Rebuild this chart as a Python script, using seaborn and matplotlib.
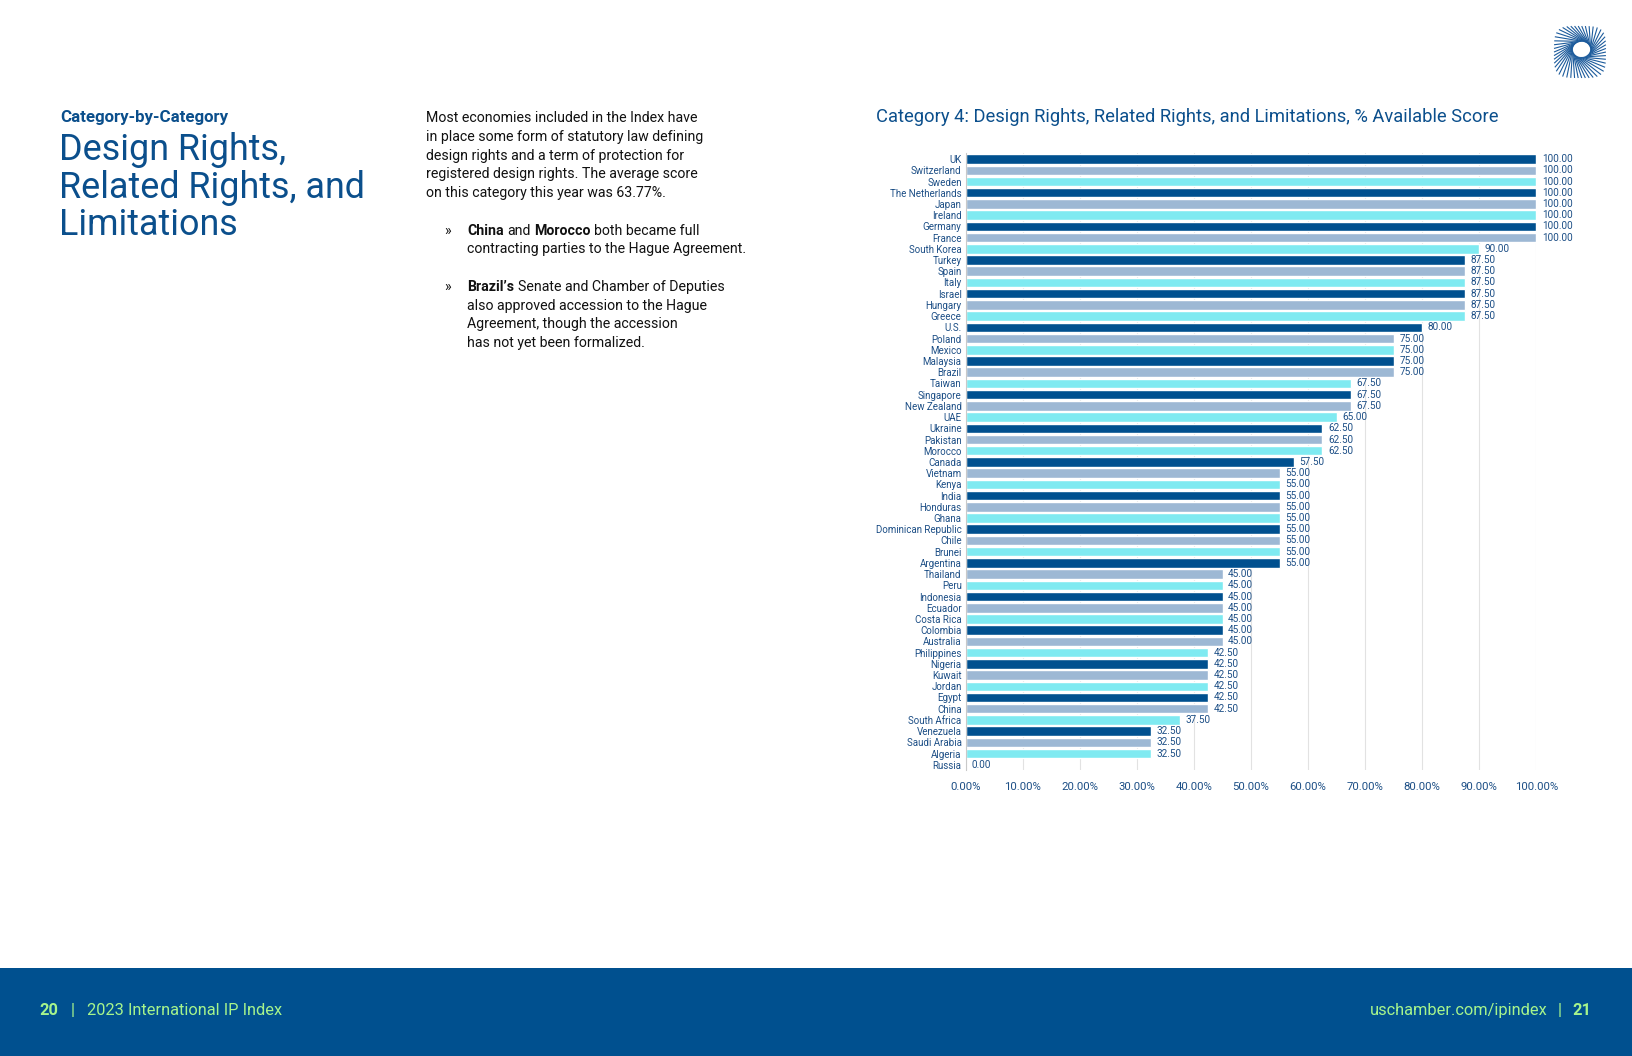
import numpy as np
import matplotlib
matplotlib.use('Agg')
import matplotlib.pyplot as plt
from matplotlib.patches import Rectangle
import seaborn as sns

# Data (Category 4, % available score)
countries = ['UK', 'Switzerland', 'Sweden', 'The Netherlands', 'Japan', 'Ireland', 'Germany', 'France',
             'South Korea', 'Turkey', 'Spain', 'Italy', 'Israel', 'Hungary', 'Greece', 'U.S.',
             'Poland', 'Mexico', 'Malaysia', 'Brazil', 'Taiwan', 'Singapore', 'New Zealand', 'UAE',
             'Ukraine', 'Pakistan', 'Morocco', 'Canada', 'Vietnam', 'Kenya', 'India', 'Honduras',
             'Ghana', 'Dominican Republic', 'Chile', 'Brunei', 'Argentina', 'Thailand', 'Peru',
             'Indonesia', 'Ecuador', 'Costa Rica', 'Colombia', 'Australia', 'Philippines', 'Nigeria',
             'Kuwait', 'Jordan', 'Egypt', 'China', 'South Africa', 'Venezuela', 'Saudi Arabia',
             'Algeria', 'Russia']
scores = [100, 100, 100, 100, 100, 100, 100, 100,
          90, 87.5, 87.5, 87.5, 87.5, 87.5, 87.5, 80,
          75, 75, 75, 75, 67.5, 67.5, 67.5, 65,
          62.5, 62.5, 62.5, 57.5, 55, 55, 55, 55,
          55, 55, 55, 55, 55, 45, 45,
          45, 45, 45, 45, 45, 42.5, 42.5,
          42.5, 42.5, 42.5, 42.5, 37.5, 32.5, 32.5,
          32.5, 0]
x_ticks = [0, 10, 20, 30, 40, 50, 60, 70, 80, 90, 100]

bar_cycle = ['#00508F', '#9DB8D4', '#7FEAF1']
navy = '#0B4F8C'
label_blue = '#1D4F86'
green = '#A6F48C'

sns.set_theme(style='white')
plt.rcParams['font.family'] = ['Roboto', 'DejaVu Sans']

# layout measured on a 1568 x 1015 view of the page
W, H = 1568.0, 1015.0
def fx(px):
    return px / W
def fy(py):
    return 1 - py / H

fig = plt.figure(figsize=(16.32, 10.56), dpi=100)
fig.patch.set_facecolor('white')
renderer = fig.canvas.get_renderer()
inv = fig.transFigure.inverted()

# ---- chart ----
ax = fig.add_axes([fx(928), fy(740.5), fx(1476) - fx(928), (740.5 - 147.5) / H])
palette = [bar_cycle[i % 3] for i in range(len(countries))]
sns.barplot(x=scores, y=countries, hue=countries, palette=palette, legend=False,
            orient='h', width=0.85, saturation=1, ax=ax, zorder=2)
for c in ax.containers:
    ax.bar_label(c, fmt='%.2f', padding=4, fontsize=7.2, color=label_blue)

ax.set_xlim(0, 100)
ax.set_xticks(x_ticks)
ax.set_xticklabels([f'{t:.2f}%' for t in x_ticks])
ax.tick_params(axis='x', length=0, pad=8, labelsize=8.2, labelcolor=label_blue)
ax.tick_params(axis='y', length=0, pad=3, labelsize=7.0, labelcolor=label_blue)
ax.set_xlabel('')
ax.set_ylabel('')
ax.xaxis.grid(True, color='#E2E2E2', linewidth=0.8, zorder=0)
ax.set_axisbelow(True)
for s in ['top', 'right', 'bottom']:
    ax.spines[s].set_visible(False)
ax.spines['left'].set_color('#C9C9C9')
ax.spines['left'].set_linewidth(0.8)

fig.text(fx(842), fy(112), 'Category 4: Design Rights, Related Rights, and Limitations, % Available Score',
         fontsize=13.2, color=navy, va='center', ha='left')

# ---- left page text ----
fig.text(fx(58), fy(117.5), 'Category-by-Category', fontsize=12.2, fontweight='bold', color=navy, va='baseline')
for txt, base in [('Design Rights,', 154), ('Related Rights, and', 190), ('Limitations', 226)]:
    fig.text(fx(57), fy(base), txt, fontsize=25.8, color=navy, va='baseline')

def runs(x, y, parts, size=10, color='#111111'):
    # draw (text, weight) pieces one after another, separated by a space
    probe1 = fig.text(0, 0, 'a a', fontsize=size)
    probe2 = fig.text(0, 0, 'aa', fontsize=size)
    gap = probe1.get_window_extent(renderer).width - probe2.get_window_extent(renderer).width
    probe1.remove()
    probe2.remove()
    xp = fig.transFigure.transform((x, 0))[0]
    for txt, weight in parts:
        t = fig.text(inv.transform((xp, 0))[0], y, txt, fontsize=size, fontweight=weight,
                     color=color, va='baseline')
        xp = t.get_window_extent(renderer).x1 + gap
    return xp

body_size = 10.2
body = ['Most economies included in the Index have',
        'in place some form of statutory law defining',
        'design rights and a term of protection for',
        'registered design rights. The average score',
        'on this category this year was 63.77%.']
for i, line in enumerate(body):
    fig.text(fx(409), fy(117.5 + 18 * i), line, fontsize=body_size, color='#111111', va='baseline')

fig.text(fx(427), fy(225.5), '\u00bb', fontsize=body_size, color='#111111', va='baseline')
runs(fx(449), fy(225.5), [('China', 'bold'), ('and', 'normal'), ('Morocco', 'bold'),
                          ('both became full', 'normal')], size=body_size)
fig.text(fx(449), fy(243.5), 'contracting parties to the Hague Agreement.', fontsize=body_size,
         color='#111111', va='baseline')

fig.text(fx(427), fy(279.5), '\u00bb', fontsize=body_size, color='#111111', va='baseline')
runs(fx(449), fy(279.5), [("Brazil\u2019s", 'bold'), ('Senate and Chamber of Deputies', 'normal')], size=body_size)
for i, line in enumerate(['also approved accession to the Hague',
                          'Agreement, though the accession',
                          'has not yet been formalized.']):
    fig.text(fx(449), fy(297.5 + 17.8 * i), line, fontsize=body_size, color='#111111', va='baseline')

# ---- logo (swirled sunburst) ----
lax = fig.add_axes([fx(1491), fy(77), 54 / W, 54 / H])
lax.set_xlim(-1.05, 1.05)
lax.set_ylim(-1.05, 1.05)
lax.set_aspect('equal')
lax.axis('off')
for a in np.linspace(0, 2 * np.pi, 46, endpoint=False):
    ca, sa = np.cos(a), np.sin(a)
    rr = 1.0 / (np.abs(ca) ** 4 + np.abs(sa) ** 4) ** 0.25   # rounded square outline
    b = a - 1.1
    lax.plot([0.06 + 0.34 * np.cos(b), rr * 0.97 * ca],
             [0.1 + 0.3 * np.sin(b), rr * 0.97 * sa],
             color='#1C5B9C', lw=0.8, solid_capstyle='butt')

# ---- footer ----
fig.add_artist(Rectangle((0, 0), 1, 85 / H, transform=fig.transFigure, facecolor='#00508F',
                         edgecolor='none', zorder=0))
foot = 11.8
fig.text(fx(38), fy(976), '20', fontsize=foot, fontweight='bold', color=green, va='baseline')
fig.text(fx(68), fy(976), '|', fontsize=foot, color=green, va='baseline')
fig.text(fx(84), fy(976), '2023 International IP Index', fontsize=foot, color=green, va='baseline')
fig.text(fx(1529), fy(976), '21', fontsize=foot, fontweight='bold', color=green, va='baseline', ha='right')
fig.text(fx(1497), fy(976), '|', fontsize=foot, color=green, va='baseline')
fig.text(fx(1487), fy(976), 'uschamber.com/ipindex', fontsize=foot, color=green, va='baseline', ha='right')

fig.savefig('out.png', dpi=100, facecolor='white')
